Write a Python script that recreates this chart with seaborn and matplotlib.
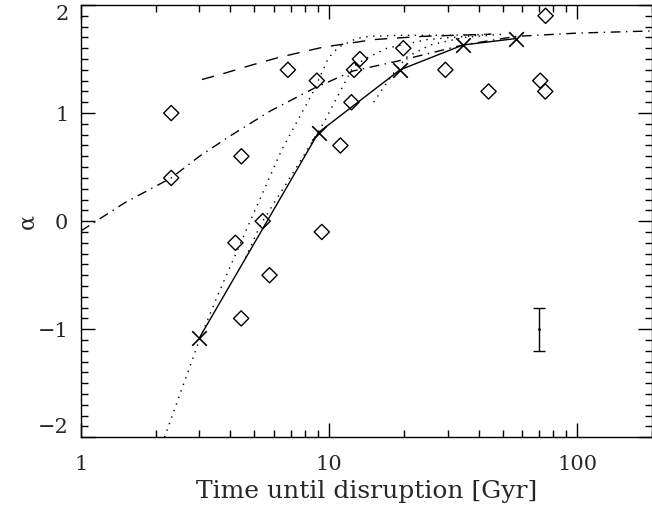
import matplotlib
matplotlib.use("Agg")
from matplotlib import pyplot as plt
from matplotlib.ticker import FixedLocator, NullFormatter
import seaborn as sns
import pandas as pd

# open diamonds: individual clusters
diamond_t = [2.31, 2.31, 4.43, 4.19, 5.40, 6.82, 8.92, 9.34, 5.75, 4.42,
             11.1, 12.3, 12.6, 13.3, 19.9, 29.4, 43.9, 70.9, 74.3, 74.5]
diamond_alpha = [1.00, 0.40, 0.60, -0.20, 0.00, 1.40, 1.30, -0.10, -0.50, -0.90,
                 0.70, 1.10, 1.40, 1.50, 1.60, 1.40, 1.20, 1.30, 1.20, 1.90]

# crosses joined by the solid line
cross_t = [3.0, 9.06, 19.3, 34.6, 56.8]
cross_alpha = [-1.08, 0.82, 1.40, 1.63, 1.69]

# dashed curve
dash_t = [3.07, 3.81, 4.8, 6.16, 7.6, 9.47, 15.1, 23.9, 45.0]
dash_alpha = [1.31, 1.37, 1.44, 1.51, 1.56, 1.61, 1.68, 1.71, 1.73]

# dash-dot curve
dashdot_t = [1.0, 1.5, 2.31, 3.0, 4.0, 5.8, 8.7, 12.5, 18.8, 27.2, 34.6, 56.8, 100.0, 200.0]
dashdot_alpha = [-0.09, 0.17, 0.40, 0.60, 0.79, 1.02, 1.23, 1.39, 1.48, 1.57, 1.63, 1.71, 1.74, 1.76]

# three dotted tracks
dotL_t = [2.17, 3.0, 3.58, 4.4, 6.44, 8.64, 9.93, 10.9, 12.9, 14.6, 20.0, 30.0, 45.0]
dotL_alpha = [-2.0, -1.1, -0.67, -0.20, 0.66, 1.20, 1.51, 1.61, 1.69, 1.71, 1.72, 1.72, 1.73]
dotM_t = [4.6, 5.3, 7.87, 9.64, 12.5, 14.2, 17.1, 24.8, 45.0]
dotM_alpha = [-0.34, -0.03, 0.60, 0.935, 1.43, 1.51, 1.60, 1.68, 1.73]
dotR_t = [15.1, 17.9, 20.6, 25.5, 35.0, 50.0]
dotR_alpha = [1.10, 1.35, 1.52, 1.63, 1.70, 1.73]

# typical error bar
err_t = [70.3]
err_alpha = [-1.0]
err_size = [0.2]

sns.set_style("ticks")
plt.rcParams["font.family"] = ["DejaVu Serif"]

fig = plt.figure(figsize=(6.52, 5.08), dpi=100)
ax = fig.add_axes([81 / 652, 70.7 / 508, 571 / 652, 432.3 / 508])

line_kw = dict(estimator=None, sort=False, color="black", linewidth=1.0, ax=ax, legend=False)

sns.lineplot(x=dashdot_t, y=dashdot_alpha, linestyle=(0, (7, 4, 1, 4)), **line_kw)
sns.lineplot(x=dash_t, y=dash_alpha, linestyle=(0, (9, 7)), **line_kw)
for t, a in [(dotL_t, dotL_alpha), (dotM_t, dotM_alpha), (dotR_t, dotR_alpha)]:
    sns.lineplot(x=t, y=a, linestyle=(0, (1, 4)), **line_kw)
sns.lineplot(x=cross_t, y=cross_alpha, linestyle="-", **line_kw)

pts = pd.DataFrame({"t": diamond_t, "alpha": diamond_alpha})
sns.scatterplot(data=pts, x="t", y="alpha", marker="D", s=60,
                facecolors="none", edgecolor="black", linewidth=1.0, ax=ax, zorder=3)
sns.scatterplot(x=cross_t, y=cross_alpha, marker="x", s=110, color="black",
                linewidth=1.2, ax=ax, zorder=3)

ax.errorbar(err_t, err_alpha, yerr=err_size, fmt="none", ecolor="black",
            elinewidth=1.0, capsize=4, capthick=1.0)
ax.plot(err_t, err_alpha, marker=".", markersize=2, color="black")

ax.set_xscale("log")
ax.set_xlim(1, 200)
ax.set_ylim(-2, 2)
ax.set_xticks([1, 10, 100])
ax.set_xticklabels(["1", "10", "100"])
ax.xaxis.set_minor_locator(FixedLocator([2, 3, 4, 5, 6, 7, 8, 9, 20, 30, 40, 50, 60, 70, 80, 90, 200]))
ax.xaxis.set_minor_formatter(NullFormatter())
ax.set_yticks([-2, -1, 0, 1, 2])
ax.set_yticklabels(["\u22122", "\u22121", "0", "1", "2"])
ax.yaxis.set_minor_locator(FixedLocator([v / 10 for v in range(-20, 21)]))

ax.tick_params(which="both", direction="in", top=True, right=True, color="black", width=1.0)
ax.tick_params(which="major", length=10, labelsize=15)
ax.tick_params(axis="x", which="major", pad=13)
ax.tick_params(axis="y", which="major", pad=9)
ax.tick_params(which="minor", length=5)
for s in ax.spines.values():
    s.set_color("black")
    s.set_linewidth(1.0)

# keep the end labels inside the box, as in the original
ylabels = ax.get_yticklabels()
ylabels[0].set_verticalalignment("bottom")
ylabels[-1].set_verticalalignment("top")

ax.set_xlabel("Time until disruption [Gyr]", fontsize=18, labelpad=4)
ax.set_ylabel("\u03b1", fontsize=16)
ax.yaxis.set_label_coords(-0.074, 0.5)

fig.savefig("out.png", dpi=100)
